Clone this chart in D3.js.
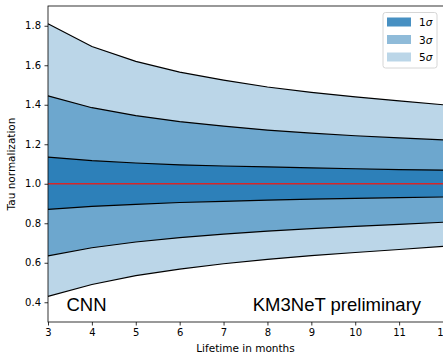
<!DOCTYPE html>
<html>
<head>
<meta charset="utf-8">
<script src="https://cdn.jsdelivr.net/npm/d3@7"></script>
<style>
  body { margin: 0; background: #fff; }
  svg { display: block; }
  .tick text { font-family: 'DejaVu Sans', sans-serif; font-size: 10px; fill: #000; }
</style>
</head>
<body>
<div id="chart"></div>
<script>
// Lifetime in months
const months = [3, 4, 5, 6, 7, 8, 9, 10, 11, 12];
// band edges
const sigma1Upper = [1.135, 1.117, 1.105, 1.096, 1.090, 1.085, 1.080, 1.076, 1.072, 1.069];
const sigma1Lower = [0.870, 0.885, 0.896, 0.905, 0.911, 0.917, 0.922, 0.926, 0.930, 0.933];
const sigma3Upper = [1.445, 1.385, 1.345, 1.315, 1.292, 1.272, 1.256, 1.243, 1.232, 1.222];
const sigma3Lower = [0.635, 0.676, 0.705, 0.727, 0.745, 0.760, 0.773, 0.784, 0.794, 0.805];
const sigma5Upper = [1.810, 1.695, 1.620, 1.565, 1.525, 1.490, 1.463, 1.440, 1.420, 1.400];
const sigma5Lower = [0.430, 0.490, 0.535, 0.568, 0.595, 0.617, 0.636, 0.652, 0.667, 0.683];
const xTicks = [3, 4, 5, 6, 7, 8, 9, 10, 11, 12];
const yTicks = [0.4, 0.6, 0.8, 1.0, 1.2, 1.4, 1.6, 1.8];
const legendLabels = ['1', '3', '5'];

const WIDTH = 443;
const HEIGHT = 357;
const BLUE = '#1f77b4';

const bands = [
  {label: '5', lower: sigma5Lower, upper: sigma5Upper, opacity: 0.3},
  {label: '3', lower: sigma3Lower, upper: sigma3Upper, opacity: 0.5},
  {label: '1', lower: sigma1Lower, upper: sigma1Upper, opacity: 0.82},
];

const margin = {top: 6, right: 0, bottom: 35, left: 48};
const plotW = WIDTH - margin.left - margin.right;
const plotH = HEIGHT - margin.top - margin.bottom;

const svg = d3.select('#chart').append('svg')
    .attr('width', WIDTH)
    .attr('height', HEIGHT);
const g = svg.append('g')
    .attr('transform', 'translate(' + margin.left + ',' + margin.top + ')');

const xScale = d3.scaleLinear().domain([3, 12]).range([0, plotW]);
const yScale = d3.scaleLinear().domain([0.3, 1.9]).range([plotH, 0]);

function drawLayers() {
  const area = d3.area()
      .x((d) => xScale(d.m))
      .y0((d) => yScale(d.lo))
      .y1((d) => yScale(d.hi));
  const line = d3.line().x((d) => xScale(d[0])).y((d) => yScale(d[1]));
  bands.forEach((b) => {
    const pts = months.map((m, i) => ({m: m, lo: b.lower[i], hi: b.upper[i]}));
    g.append('path')
        .attr('d', area(pts))
        .attr('fill', BLUE)
        .attr('fill-opacity', b.opacity);
  });
  bands.forEach((b) => {
    [b.lower, b.upper].forEach((arr) => {
      g.append('path')
          .attr('d', line(months.map((m, i) => [m, arr[i]])))
          .attr('fill', 'none')
          .attr('stroke', '#000')
          .attr('stroke-width', 1.2);
    });
  });
  g.append('path')
      .attr('d', line([[3, 1.0], [12, 1.0]]))
      .attr('stroke', '#d62728')
      .attr('stroke-width', 1.7);
}

function drawAxes() {
  const xAxis = d3.axisBottom(xScale).tickValues(xTicks)
      .tickFormat(d3.format('d')).tickSize(3.5).tickPadding(3.5);
  const yAxis = d3.axisLeft(yScale).tickValues(yTicks)
      .tickFormat(d3.format('.1f')).tickSize(3.5).tickPadding(3.5);
  const gx = g.append('g')
      .attr('transform', 'translate(0,' + plotH + ')')
      .call(xAxis);
  const gy = g.append('g').call(yAxis);
  [gx, gy].forEach((a) => {
    a.select('.domain').remove();
    a.selectAll('.tick line').attr('stroke', '#000').attr('stroke-width', 0.8);
  });
  // frame
  g.append('rect')
      .attr('width', plotW + 1)
      .attr('height', plotH)
      .attr('fill', 'none')
      .attr('stroke', '#000')
      .attr('stroke-width', 0.8);
  svg.append('text')
      .attr('x', margin.left + plotW / 2)
      .attr('y', 352)
      .attr('text-anchor', 'middle')
      .style('font-family', 'DejaVu Sans, sans-serif')
      .style('font-size', '10.5px')
      .text('Lifetime in months');
  svg.append('text')
      .attr('transform', 'translate(15,' + (margin.top + plotH / 2) + ') rotate(-90)')
      .attr('text-anchor', 'middle')
      .style('font-family', 'DejaVu Sans, sans-serif')
      .style('font-size', '10.5px')
      .text('Tau normalization');
}

function drawAnnotations() {
  g.append('text')
      .attr('x', xScale(3.42))
      .attr('y', yScale(0.355))
      .style('font-family', 'Liberation Sans, Arial, sans-serif')
      .style('font-size', '18.5px')
      .text('CNN');
  g.append('text')
      .attr('x', xScale(11.5))
      .attr('y', yScale(0.355))
      .attr('text-anchor', 'end')
      .style('font-family', 'Liberation Sans, Arial, sans-serif')
      .style('font-size', '18.5px')
      .text('KM3NeT preliminary');
}

function drawLegend() {
  const lx = 383;
  const ly = 12.5;
  const rowH = 17.5;
  const legend = svg.append('g');
  legend.append('rect')
      .attr('x', lx)
      .attr('y', ly)
      .attr('width', 54)
      .attr('height', 55.5)
      .attr('rx', 2.5)
      .attr('fill', '#fff')
      .attr('fill-opacity', 0.8)
      .attr('stroke', '#ccc')
      .attr('stroke-width', 0.8);
  const row = legend.selectAll('g.row')
      .data(legendLabels)
      .enter()
      .append('g')
      .attr('class', 'row')
      .attr('transform', (d, i) => 'translate(' + (lx + 4) + ',' + (ly + 5 + i * rowH) + ')');
  row.append('rect')
      .attr('width', 24)
      .attr('height', 9)
      .attr('fill', BLUE)
      .attr('fill-opacity', (d) => bands.find((b) => b.label == d).opacity);
  const txt = row.append('text')
      .attr('x', 32)
      .attr('y', 8.5)
      .style('font-family', 'DejaVu Sans, sans-serif')
      .style('font-size', '10.5px');
  txt.append('tspan').text((d) => d);
  txt.append('tspan').style('font-style', 'italic').text('σ');
}

drawLayers();
drawAxes();
drawAnnotations();
drawLegend();
</script>
</body>
</html>
